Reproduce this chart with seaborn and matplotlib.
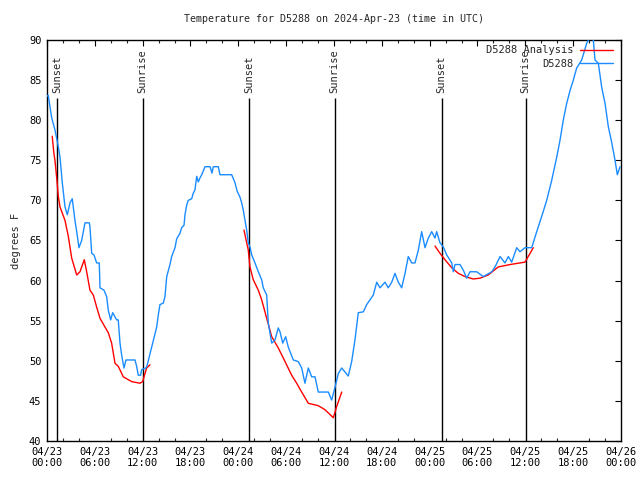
"""
Temperature for D5288, 2024-Apr-23, observed vs analysis, with sunrise/sunset markers.
"""

import numpy as np
import pandas as pd
import matplotlib
matplotlib.use("Agg")
import matplotlib.pyplot as plt
import matplotlib.dates as mdates
from matplotlib.lines import Line2D
import seaborn as sns

START = pd.Timestamp("2024-04-23 00:00")

# observed station temperatures (hours after start, degrees F)
obs_hours = [
    0.00, 0.16, 0.59, 1.00, 1.42, 1.63, 1.92, 2.26, 2.55, 2.89, 3.17, 3.51, 3.73, 4.01,
    4.35, 4.77, 5.31, 5.39, 5.61, 5.90, 6.23, 6.56, 6.65, 7.15, 7.49, 7.69, 7.99, 8.24,
    8.74, 8.94, 9.16, 9.37, 9.66, 9.91, 11.04, 11.25, 11.45, 11.75, 11.88, 12.42, 12.58,
    13.13, 13.46, 13.76, 13.96, 14.17, 14.59, 14.80, 15.02, 15.43, 15.64, 16.06, 16.27,
    16.68, 16.90, 17.19, 17.31, 17.52, 17.72, 18.15, 18.35, 18.56, 18.78, 18.98, 19.19,
    19.41, 19.82, 20.45, 20.70, 20.86, 21.49, 21.70, 23.17, 23.58, 23.87, 24.21, 24.42,
    24.62, 24.84, 25.05, 25.25, 25.46, 25.68, 26.09, 26.51, 26.93, 27.13, 27.56, 27.76,
    28.19, 28.60, 29.01, 29.23, 29.57, 29.94, 30.27, 30.90, 31.52, 31.95, 32.36, 32.78,
    33.20, 33.62, 34.03, 35.29, 35.71, 36.13, 36.54, 36.97, 37.79, 38.22, 38.63, 39.05,
    39.68, 40.10, 40.52, 40.93, 41.36, 41.77, 42.40, 42.81, 43.24, 43.65, 44.07, 44.49,
    44.91, 45.32, 45.75, 46.16, 46.58, 47.00, 47.42, 47.83, 48.26, 48.67, 48.88, 49.30,
    49.71, 50.14, 50.77, 50.97, 51.18, 51.81, 52.22, 52.65, 53.06, 53.90, 54.73, 55.79,
    56.20, 56.83, 57.45, 57.87, 58.29, 58.92, 59.33, 59.96, 60.80, 61.43, 62.05, 62.68,
    63.31, 63.94, 64.35, 64.76, 65.19, 65.61, 66.02, 66.44, 67.07, 67.70, 68.11, 68.53,
    68.74, 69.16, 69.58, 70.00, 70.41, 70.84, 71.25, 71.54, 71.88,
]
obs_temps = [
    83.0, 83.1, 80.3, 78.8, 76.7, 75.4, 72.2, 69.2, 68.2, 69.7, 70.2, 67.5, 66.1, 64.1,
    65.0, 67.2, 67.2, 66.7, 63.4, 63.2, 62.2, 62.2, 59.1, 58.8, 58.0, 56.3, 55.1, 56.0,
    55.1, 55.1, 52.2, 50.7, 49.1, 50.1, 50.1, 49.3, 48.2, 48.2, 48.9, 49.1, 49.5,
    51.7, 53.0, 54.2, 55.7, 57.0, 57.2, 58.0, 60.5, 62.0, 63.0, 64.1, 65.2,
    65.9, 66.6, 66.9, 68.2, 69.4, 70.0, 70.2, 70.9, 71.3, 73.0, 72.3, 72.8,
    73.2, 74.2, 74.2, 73.4, 74.2, 74.2, 73.2, 73.2, 72.2, 71.1, 70.4, 69.7,
    68.8, 67.5, 66.3, 64.7, 64.2, 63.2, 62.2, 61.1, 60.1, 59.1, 58.2, 54.7,
    52.2, 52.6, 54.1, 53.6, 52.2, 53.0, 51.7, 50.1, 49.9, 49.1, 47.2, 49.1,
    48.0, 48.0, 46.1, 46.1, 45.1, 46.7, 48.4, 49.1, 48.1, 49.9, 52.6, 56.0,
    56.1, 57.0, 57.6, 58.2, 59.8, 59.1, 59.8, 59.1, 59.8, 60.9, 59.8, 59.1,
    60.9, 63.0, 62.2, 62.2, 63.8, 66.1, 64.1, 65.3, 66.1, 65.3, 66.1, 64.7,
    64.2, 63.2, 62.2, 61.1, 62.0, 62.0, 61.3, 60.3, 61.1, 61.1, 60.5, 61.1,
    61.7, 63.0, 62.2, 63.0, 62.3, 64.1, 63.6, 64.1, 64.1, 66.1, 68.0, 70.0,
    72.5, 75.4, 77.5, 80.0, 82.1, 83.7, 85.0, 86.5, 87.5, 89.6, 90.3, 90.0,
    87.5, 87.1, 84.1, 82.1, 79.2, 77.2, 75.0, 73.2, 74.2,
]

# analysis temperatures, three night-time pieces
ana_seg = [1] * 28 + [2] * 19 + [3] * 13
ana_hours = [
    0.66, 0.85, 1.00, 1.25, 1.42, 1.63, 2.26, 2.68, 3.10, 3.73, 4.14, 4.68, 4.98, 5.39,
    5.81, 6.23, 6.65, 7.28, 7.69, 8.11, 8.53, 8.95, 9.57, 10.63, 11.66, 12.00, 12.50, 12.92,
    24.71, 25.25, 25.46, 25.88, 26.51, 26.93, 27.56, 28.19, 29.01, 29.86, 30.69, 31.32,
    31.95, 32.78, 34.03, 34.87, 35.92, 36.34, 36.97,
    48.67, 49.30, 49.92, 50.77, 51.60, 52.43, 53.47, 54.31, 55.35, 56.60, 58.08, 59.96, 61.00,
]
ana_temps = [
    78.0, 76.0, 75.0, 72.5, 70.5, 69.2, 67.5, 65.5, 62.8, 60.7, 61.1, 62.6, 61.1, 58.8,
    58.2, 56.7, 55.3, 54.2, 53.5, 52.2, 49.7, 49.3, 48.0, 47.4, 47.2, 47.4, 49.1, 49.5,
    66.3, 63.8, 61.7, 60.1, 58.8, 57.6, 55.3, 53.0, 51.6, 49.9, 48.2, 47.2,
    46.1, 44.7, 44.4, 43.9, 42.9, 44.3, 46.1,
    64.3, 63.4, 62.6, 61.6, 60.9, 60.5, 60.2, 60.3, 60.7, 61.7, 62.0, 62.3, 64.1,
]

event_hours = [1.29, 12.00, 25.38, 36.09, 49.50, 60.05]
event_names = ["Sunset", "Sunrise", "Sunset", "Sunrise", "Sunset", "Sunrise"]

BLUE = "#1a8cff"
RED = "#ff0000"

obs = pd.DataFrame({"time": START + pd.to_timedelta(obs_hours, unit="h"), "temp": obs_temps})
ana = pd.DataFrame({"time": START + pd.to_timedelta(ana_hours, unit="h"),
                    "temp": ana_temps, "seg": ana_seg})

sns.set_theme(style="white")
plt.rcParams["font.family"] = ["DejaVu Sans Mono"]
plt.rcParams["font.size"] = 7

fig, ax = plt.subplots(figsize=(6.4, 4.8), dpi=100)
fig.subplots_adjust(left=0.0734, right=0.9703, top=0.9167, bottom=0.0813)

# sunrise / sunset markers
for h, name in zip(event_hours, event_names):
    t = START + pd.Timedelta(hours=h)
    ax.vlines(t, 40, 82.8, color="black", lw=1, zorder=1)
    ax.text(t, 83.4, name, rotation=90, ha="center", va="bottom", fontsize=7.5)

sns.lineplot(data=ana, x="time", y="temp", units="seg", estimator=None,
             color=RED, lw=1, ax=ax, zorder=2)
sns.lineplot(data=obs, x="time", y="temp", color=BLUE, lw=1, ax=ax, zorder=3)

ax.set_xlim(START, START + pd.Timedelta(hours=72))
ax.set_ylim(40, 90)
ax.set_yticks(np.arange(40, 91, 5))
ax.xaxis.set_major_locator(mdates.HourLocator(byhour=[0, 6, 12, 18]))
ax.xaxis.set_minor_locator(mdates.HourLocator(byhour=range(0, 24, 2)))
ax.xaxis.set_major_formatter(mdates.DateFormatter("%m/%d\n%H:%M"))
ax.tick_params(axis="both", which="major", direction="in", length=4.5, width=0.8,
               top=True, right=True, labelsize=7.5, pad=4, colors="black")
ax.tick_params(axis="x", which="minor", direction="in", length=2.2, width=0.8,
               top=True, bottom=True)
for sp in ax.spines.values():
    sp.set_color("black")
    sp.set_linewidth(1)

ax.set_xlabel("")
ax.set_ylabel("degrees F", fontsize=7.5, labelpad=6)
ax.set_title("Temperature for D5288 on 2024-Apr-23 (time in UTC)", fontsize=7.2, pad=13)

handles = [Line2D([], [], color=RED, lw=1), Line2D([], [], color=BLUE, lw=1)]
ax.legend(handles, ["D5288 Analysis", "D5288"], loc="upper right", frameon=False,
          markerfirst=False, fontsize=7.5, handlelength=3.2, handletextpad=0.6,
          labelspacing=0.35, borderaxespad=0.1, bbox_to_anchor=(0.995, 1.0))

plt.savefig("out.png", dpi=100)
